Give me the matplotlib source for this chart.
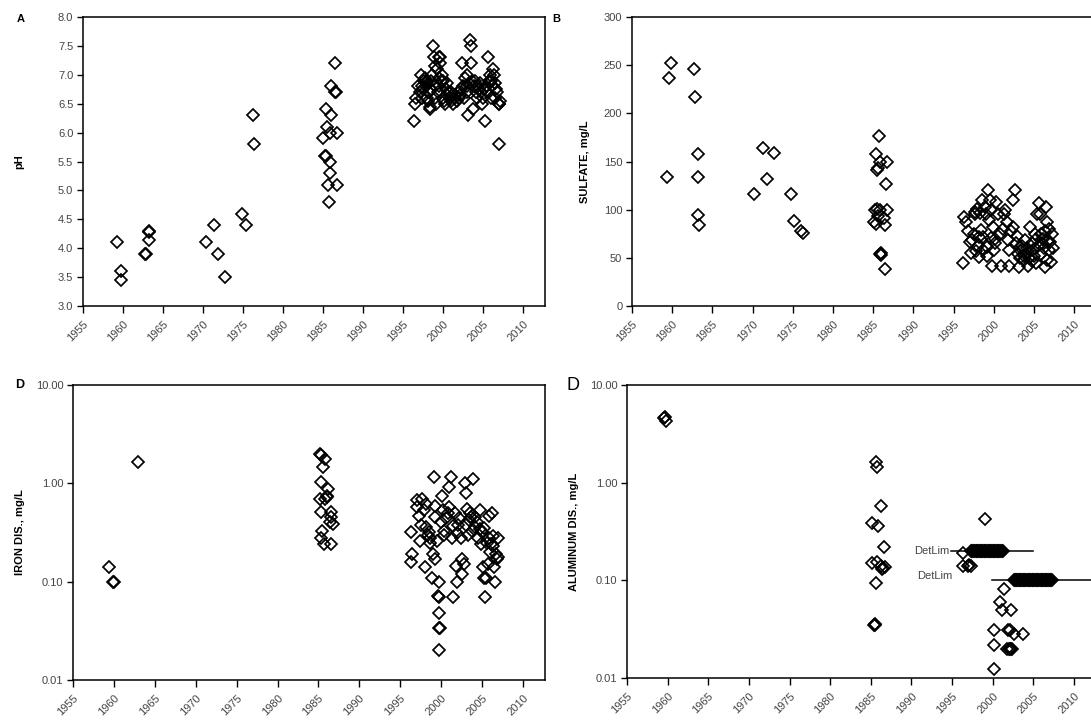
import matplotlib
matplotlib.use("Agg")
import matplotlib.pyplot as plt
from matplotlib.ticker import FixedLocator, FormatStrFormatter, NullLocator

plt.rcParams['font.family'] = ['Liberation Sans', 'DejaVu Sans']

# ---- panel A : pH ----
ph_year = [1959.2, 1959.8, 1959.8, 1962.8, 1962.9, 1963.2, 1963.2, 1963.3,
           1970.3, 1971.4, 1971.8, 1972.7, 1974.9, 1975.3, 1976.2, 1976.4,
           1985.4, 1985.0, 1985.5, 1985.2, 1985.3, 1985.6, 1985.7, 1985.8, 1986.0, 1985.9,
           1985.8, 1986.0, 1986.5, 1986.5, 1986.6, 1986.75, 1986.7,
           1996.3, 1996.5, 1996.6, 1996.9, 1997.1, 1997.2, 1997.4, 1997.5, 1997.6, 1997.7,
           1997.8, 1997.9, 1998.0, 1998.1, 1998.2, 1998.3, 1998.3, 1998.4, 1998.5, 1998.6,
           1998.75, 1998.8, 1998.9, 1999.0, 1999.1, 1999.2, 1999.3, 1999.4, 1999.5, 1999.6,
           1999.6, 1999.7, 1999.8, 1999.9, 2000.0, 2000.1, 2000.2, 2000.3, 2000.5, 2000.6,
           2000.8, 2001.0, 2001.2, 2001.4, 2001.5, 2001.7, 2001.9, 2002.0, 2002.2, 2002.3,
           2002.5, 2002.7, 2002.9, 2003.0, 2003.1, 2003.2, 2003.3, 2003.4, 2003.5, 2003.6,
           2003.7, 2003.8, 2004.0, 2004.2, 2004.3, 2004.5, 2004.7, 2004.8, 2005.0, 2005.2,
           2005.3, 2005.5, 2005.6, 2005.7, 2005.8, 2006.0, 2006.1, 2006.25, 2006.3, 2006.4,
           2006.5, 2006.6, 2006.7, 2006.9, 2007.0, 2007.1, 2006.9, 1997.3, 1998.0, 1999.0,
           2000.4, 2001.0, 2002.1, 2003.0, 2004.1, 2005.1, 2006.0, 2002.6, 2004.6, 1999.5]
ph_val = [4.1, 3.6, 3.45, 3.9, 3.9, 4.15, 4.3, 4.28,
          4.1, 4.4, 3.9, 3.5, 4.6, 4.4, 6.3, 5.8,
          6.4, 5.9, 6.1, 5.6, 5.6, 5.1, 4.8, 6.0, 6.3, 5.5,
          5.3, 6.8, 7.2, 6.7, 6.7, 6.0, 5.1,
          6.2, 6.5, 6.6, 6.8, 6.7, 7.0, 6.6, 6.75, 6.9, 6.95,
          6.8, 6.85, 6.6, 6.55, 6.7, 6.4, 6.45, 6.9, 6.75, 7.0,
          7.5, 7.3, 6.6, 7.15, 6.5, 7.1, 6.7, 7.3, 6.8, 7.3,
          7.2, 6.9, 7.0, 6.6, 6.9, 6.55, 6.5, 6.75, 6.65, 6.7,
          6.6, 6.55, 6.5, 6.65, 6.6, 6.55, 6.7, 6.6, 6.75, 7.2,
          6.8, 6.95, 7.0, 6.7, 6.3, 6.85, 7.6, 7.5, 7.2, 6.9,
          6.4, 6.8, 6.9, 6.6, 6.8, 6.75, 6.7, 6.5, 6.6, 6.2,
          6.8, 6.7, 7.3, 6.9, 7.0, 6.6, 6.8, 7.1, 7.0, 6.85,
          6.6, 6.75, 6.7, 6.5, 6.5, 6.55, 5.8, 6.8, 6.9, 6.8,
          6.85, 6.7, 6.65, 6.8, 6.7, 6.75, 6.9, 6.6, 6.85, 6.95]

# ---- panel B : sulfate ----
so4_year = [1959.3, 1959.6, 1959.9, 1962.7, 1962.8, 1963.2, 1963.2, 1963.2, 1963.3,
            1970.2, 1971.3, 1971.8, 1972.6, 1974.8, 1975.2, 1976.0, 1976.25,
            1985.7, 1985.4, 1985.5, 1985.6, 1985.9, 1986.7, 1986.6, 1985.2, 1985.5, 1985.8,
            1986.7, 1985.6, 1985.1, 1985.4, 1986.4, 1985.9, 1986.0, 1985.95, 1986.4, 1986.3,
            1996.2, 1996.3, 1996.5, 1996.8, 1997.0, 1997.2, 1997.3, 1997.5, 1997.6, 1997.7,
            1997.9, 1998.0, 1998.1, 1998.2, 1998.4, 1998.5, 1998.6, 1998.7, 1998.9, 1999.0,
            1999.1, 1999.3, 1999.4, 1999.5, 1999.6, 1999.7, 1999.8, 1999.9, 2000.0, 2000.1,
            2000.3, 2000.5, 2000.7, 2000.9, 2001.1, 2001.4, 2001.6, 2001.8, 2001.9, 2001.9,
            2002.1, 2002.4, 2002.6, 2002.4, 2002.7, 2003.0, 2003.1, 2003.2, 2003.4, 2003.7,
            2003.8, 2003.9, 2004.0, 2004.1, 2004.2, 2004.4, 2004.5, 2004.7, 2004.9, 2005.1,
            2005.2, 2005.4, 2005.6, 2005.7, 2005.8, 2005.9, 2006.0, 2006.2, 2006.3, 2006.4,
            2006.5, 2006.6, 2006.7, 2006.8, 2007.1, 2007.2, 2007.3, 2003.5, 2004.3, 2005.0,
            2005.5, 2006.1, 2006.9, 2003.3, 1998.3, 2000.2, 2001.2, 1997.8, 1999.2, 2006.6,
            2004.8, 2002.9, 2007.0, 2005.3]
so4_val = [134, 237, 252, 246, 217, 158, 134, 94, 84,
           116, 164, 132, 159, 116, 88, 78, 76,
           176, 158, 141, 143, 150, 150, 127, 100, 101, 100,
           100, 93, 87, 85, 84, 54, 53, 55, 38, 91,
           45, 92, 87, 78, 66, 55, 68, 75, 95, 98,
           101, 62, 72, 51, 79, 110, 58, 72, 103, 95,
           61, 120, 89, 110, 100, 71, 42, 82, 58, 65,
           108, 96, 75, 42, 80, 100, 87, 68, 42, 58,
           78, 110, 120, 82, 65, 54, 41, 61, 57, 48,
           52, 68, 54, 60, 42, 50, 82, 65, 58, 75,
           45, 96, 107, 95, 75, 54, 65, 60, 41, 78,
           103, 87, 67, 58, 46, 75, 60, 62, 55, 52,
           62, 70, 80, 50, 97, 70, 95, 57, 52, 48,
           47, 73, 66, 70]

# ---- panel C : dissolved iron ----
fe_year = [1959.4, 1959.9, 1960.0, 1962.9,
           1985.2, 1985.3, 1985.8, 1985.6, 1985.3, 1986.2, 1986.0, 1985.8, 1985.2, 1985.3,
           1986.6, 1986.4, 1986.8, 1985.5, 1985.3, 1985.7, 1986.6, 1986.1, 1986.5,
           1996.3, 1996.5, 1996.3, 1997.1, 1997.0, 1997.3, 1997.4, 1997.7, 1997.9, 1998.0,
           1998.2, 1998.5, 1998.6, 1998.7, 1999.0, 1999.1, 1998.9, 1999.3, 1999.2, 1999.3,
           1999.7, 1999.6, 1999.7, 1999.8, 1999.8, 1999.9, 1999.8, 2000.1, 2000.2, 2000.4,
           2000.6, 2001.0, 2001.2, 2001.0, 2001.3, 2001.4, 2001.5, 2001.8, 2002.0, 2002.2,
           2002.4, 2002.5, 2002.6, 2002.8, 2002.9, 2003.1, 2003.2, 2003.4, 2003.6, 2003.8,
           2003.9, 2004.1, 2004.5, 2004.7, 2004.8, 2004.9, 2005.1, 2005.2, 2005.4, 2005.5,
           2005.7, 2005.8, 2005.9, 2006.1, 2006.3, 2006.5, 2006.6, 2006.7, 2006.9, 2007.0,
           1998.1, 1998.4, 2000.0, 2001.7, 2003.0, 2003.5, 2004.2, 2005.0, 2005.6, 2006.0,
           2006.2, 2006.8, 1997.6, 2000.8, 2002.1, 2003.3, 2004.4, 2005.3, 2000.3, 1999.5,
           2006.4, 2001.9]
fe_val = [0.14, 0.10, 0.10, 1.66,
          1.99, 1.95, 1.77, 1.48, 1.02, 0.87, 0.75, 0.69, 0.69, 0.51,
          0.51, 0.40, 0.39, 0.33, 0.28, 0.24, 0.24, 0.72, 0.45,
          0.16, 0.19, 0.32, 0.67, 0.57, 0.47, 0.26, 0.69, 0.53, 0.14,
          0.36, 0.32, 0.28, 0.25, 0.19, 1.17, 0.11, 0.17, 0.59, 0.45,
          0.10, 0.072, 0.07, 0.048, 0.034, 0.034, 0.020, 0.75, 0.53, 0.33,
          0.44, 0.91, 1.17, 0.57, 0.28, 0.37, 0.07, 0.145, 0.10, 0.44,
          0.28, 0.12, 0.17, 0.15, 1.0, 0.80, 0.55, 0.42, 0.45, 0.33,
          1.11, 0.36, 0.28, 0.53, 0.34, 0.24, 0.14, 0.11, 0.07, 0.11,
          0.15, 0.47, 0.28, 0.24, 0.23, 0.14, 0.10, 0.19, 0.28, 0.18,
          0.62, 0.30, 0.40, 0.50, 0.38, 0.50, 0.45, 0.32, 0.25, 0.20,
          0.50, 0.17, 0.38, 0.50, 0.38, 0.30, 0.40, 0.35, 0.30, 0.26,
          0.29, 0.31]

# ---- panel D : dissolved aluminum ----
al_year = [1959.6, 1959.8, 1959.7,
           1985.6, 1985.8, 1986.2, 1985.1, 1985.9, 1986.6, 1985.1, 1985.8, 1986.2, 1986.5,
           1986.7, 1986.4, 1985.6, 1985.4, 1985.5, 1985.45,
           1996.3, 1996.3, 1996.9, 1997.3, 1997.1, 1999.1,
           2001.4, 2000.9, 2001.1, 2002.2, 2000.1, 2000.1, 2001.9, 2002.1, 2002.6, 2003.7,
           2001.8, 2002.0, 2002.1, 2002.3, 2002.4, 2000.2]
al_val = [4.56, 4.3, 4.7,
          1.64, 1.43, 0.58, 0.39, 0.36, 0.22, 0.15, 0.155, 0.14, 0.135,
          0.137, 0.13, 0.093, 0.035, 0.035, 0.036,
          0.19, 0.14, 0.14, 0.14, 0.145, 0.42,
          0.081, 0.060, 0.050, 0.050, 0.031, 0.022, 0.031, 0.031, 0.028, 0.028,
          0.020, 0.020, 0.020, 0.020, 0.020, 0.0125]
# samples reported at the detection limit
al_dl1_year = [1997.3, 1997.4, 1997.5, 1997.6, 1997.7, 1997.8, 1997.9, 1998.0, 1998.1, 1998.2,
               1998.3, 1998.4, 1998.5, 1998.6, 1998.7, 1998.8, 1998.9, 1999.0, 1999.1, 1999.2,
               1999.3, 1999.4, 1999.5, 1999.6, 1999.7, 1999.8, 1999.9, 2000.0, 2000.1, 2000.2,
               2000.3, 2000.4, 2000.5, 2000.6, 2000.7, 2000.8, 2000.9, 2001.0, 2001.1, 2001.2]
al_dl2_year = [2002.6, 2002.7, 2002.8, 2002.9, 2003.0, 2003.1, 2003.2, 2003.3, 2003.4, 2003.5,
               2003.6, 2003.7, 2003.8, 2003.9, 2004.0, 2004.1, 2004.2, 2004.3, 2004.4, 2004.5,
               2004.6, 2004.7, 2004.8, 2004.9, 2005.0, 2005.1, 2005.2, 2005.3, 2005.4, 2005.5,
               2005.6, 2005.7, 2005.8, 2005.9, 2006.0, 2006.1, 2006.2, 2006.3, 2006.4, 2006.5,
               2006.6, 2006.7, 2006.8, 2006.9, 2007.0, 2007.1, 2007.2, 2007.3]
detlim_val = [0.2, 0.1]
detlim_x0 = [1994.8, 1999.9]
detlim_x1 = [2005.0, 2013.0]

xticks = [1955, 1960, 1965, 1970, 1975, 1980, 1985, 1990, 1995, 2000, 2005, 2010]
W, H = 1091, 728

fig = plt.figure(figsize=(W / 100, H / 100), dpi=100)


def px_axes(x0, y0, x1, y1):
    return fig.add_axes([x0 / W, 1 - y1 / H, (x1 - x0) / W, (y1 - y0) / H])


def style(ax, ylabel, pad):
    ax.set_xlim(1955, 2012.7)
    ax.set_xticks(xticks)
    ax.set_xticklabels([str(t) for t in xticks], rotation=45, ha='right',
                       rotation_mode='anchor', fontsize=8, color='#444444')
    ax.tick_params(axis='x', direction='out', length=5, width=1, pad=4)
    ax.tick_params(axis='y', direction='out', length=4, width=1, labelsize=8,
                   labelcolor='#444444', pad=3)
    ax.set_ylabel(ylabel, fontsize=8, fontweight='bold', labelpad=pad)
    for s in ax.spines.values():
        s.set_linewidth(1.1)


def dots(ax, x, y):
    ax.plot(x, y, linestyle='none', marker='D', markersize=5.8, mfc='none',
            mec='black', mew=1.25)


# A
axA = px_axes(83, 17, 545, 306)
dots(axA, ph_year, ph_val)
axA.set_ylim(3.0, 8.0)
axA.set_yticks([3.0, 3.5, 4.0, 4.5, 5.0, 5.5, 6.0, 6.5, 7.0, 7.5, 8.0])
axA.yaxis.set_major_formatter(FormatStrFormatter('%.1f'))
style(axA, 'pH', 24)
fig.text(17 / W, 1 - 19 / H, 'A', fontsize=8, fontweight='bold', va='center')

# B
axB = px_axes(632, 17, 1096, 306)
dots(axB, so4_year, so4_val)
axB.set_ylim(0, 300)
axB.set_yticks([0, 50, 100, 150, 200, 250, 300])
style(axB, 'SULFATE, mg/L', 10)
fig.text(552 / W, 1 - 19 / H, 'B', fontsize=8, fontweight='bold', va='center')

# iron
axC = px_axes(73, 385, 545, 680)
dots(axC, fe_year, fe_val)
axC.set_yscale('log')
axC.set_ylim(0.01, 10)
axC.yaxis.set_major_locator(FixedLocator([0.01, 0.1, 1, 10]))
axC.yaxis.set_minor_locator(NullLocator())
axC.yaxis.set_major_formatter(FormatStrFormatter('%.2f'))
style(axC, 'IRON DIS., mg/L', 8)
fig.text(15 / W, 1 - 385 / H, 'D', fontsize=9, fontweight='bold', va='center')

# aluminum
axD = px_axes(627, 385, 1096, 678)
for v, a, b in zip(detlim_val, detlim_x0, detlim_x1):
    axD.plot([a, b], [v, v], color='black', lw=1.1)
dots(axD, al_year, al_val)
dots(axD, al_dl1_year, [detlim_val[0]] * len(al_dl1_year))
dots(axD, al_dl2_year, [detlim_val[1]] * len(al_dl2_year))
axD.text(detlim_x0[0] - 0.1, detlim_val[0], 'DetLim', ha='right', va='center',
         fontsize=8, color='#444444')
axD.text(1995.0, detlim_val[1] * 1.1, 'DetLim', ha='right', va='center',
         fontsize=8, color='#444444')
axD.set_yscale('log')
axD.set_ylim(0.01, 10)
axD.yaxis.set_major_locator(FixedLocator([0.01, 0.1, 1, 10]))
axD.yaxis.set_minor_locator(NullLocator())
axD.yaxis.set_major_formatter(FormatStrFormatter('%.2f'))
style(axD, 'ALUMINUM DIS., mg/L', 8)
fig.text(566 / W, 1 - 386 / H, 'D', fontsize=13, va='center')

fig.savefig('out.png', dpi=100)
